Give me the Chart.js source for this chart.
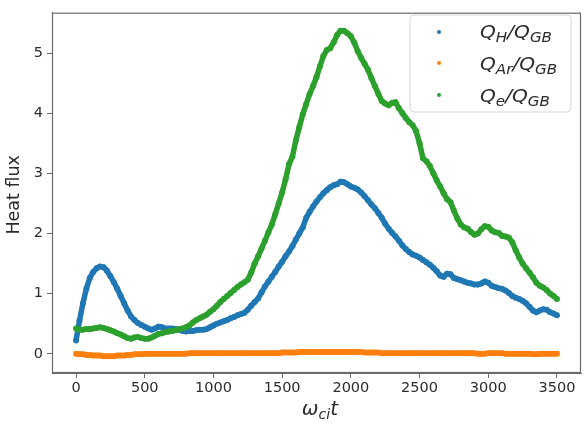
<!DOCTYPE html>
<html>
<head>
<meta charset="utf-8">
<script src="https://cdn.jsdelivr.net/npm/chart.js@4.4.1/dist/chart.umd.min.js"></script>
<style>
  html, body { margin: 0; padding: 0; background: #fff; }
  #wrap { width: 587px; height: 426px; }
</style>
</head>
<body>
<div id="wrap"><canvas id="chart" width="587" height="426"></canvas></div>
<script>
// sampling of omega_ci t (every 25 units, 0..3500)
const tStep = 25;

const qH = [
  0.22, 0.55, 0.84, 1.08, 1.26, 1.36, 1.42, 1.45, 1.44, 1.38,
  1.29, 1.19, 1.08, 0.96, 0.84, 0.72, 0.62, 0.56, 0.51, 0.48,
  0.45, 0.42, 0.40, 0.42, 0.45, 0.44, 0.42, 0.42, 0.42, 0.41,
  0.40, 0.38, 0.37, 0.38, 0.38, 0.39, 0.40, 0.40, 0.41, 0.44,
  0.47, 0.50, 0.52, 0.54, 0.56, 0.59, 0.61, 0.64, 0.66, 0.68,
  0.73, 0.80, 0.86, 0.92, 1.02, 1.12, 1.20, 1.28, 1.36, 1.45,
  1.53, 1.62, 1.70, 1.79, 1.90, 2.00, 2.10, 2.26, 2.36, 2.45,
  2.53, 2.60, 2.67, 2.72, 2.77, 2.80, 2.82, 2.86, 2.85, 2.82,
  2.78, 2.76, 2.73, 2.68, 2.62, 2.55, 2.48, 2.42, 2.34, 2.26,
  2.16, 2.08, 2.01, 1.95, 1.88, 1.80, 1.74, 1.69, 1.65, 1.63,
  1.60, 1.56, 1.52, 1.48, 1.43, 1.37, 1.30, 1.28, 1.33, 1.32,
  1.26, 1.24, 1.22, 1.20, 1.18, 1.17, 1.15, 1.15, 1.17, 1.20,
  1.18, 1.13, 1.11, 1.09, 1.08, 1.05, 1.01, 0.96, 0.93, 0.91,
  0.88, 0.84, 0.78, 0.72, 0.69, 0.72, 0.74, 0.73, 0.69, 0.67,
  0.64
];

const qAr = [
  0.00, -0.01, -0.01, -0.02, -0.02, -0.03, -0.03, -0.03, -0.04, -0.04,
  -0.04, -0.04, -0.03, -0.03, -0.03, -0.02, -0.02, -0.01, -0.01, -0.01,
  0.00, 0.00, 0.00, 0.00, 0.00, 0.00, 0.00, 0.00, 0.00, 0.00,
  0.00, 0.00, 0.00, 0.01, 0.01, 0.01, 0.01, 0.01, 0.01, 0.01,
  0.01, 0.01, 0.01, 0.01, 0.01, 0.01, 0.01, 0.01, 0.01, 0.01,
  0.01, 0.01, 0.01, 0.01, 0.01, 0.01, 0.01, 0.01, 0.01, 0.01,
  0.02, 0.02, 0.02, 0.02, 0.02, 0.03, 0.03, 0.03, 0.03, 0.03,
  0.03, 0.03, 0.03, 0.03, 0.03, 0.03, 0.03, 0.03, 0.03, 0.03,
  0.03, 0.03, 0.03, 0.03, 0.02, 0.02, 0.02, 0.02, 0.02, 0.01,
  0.01, 0.01, 0.01, 0.01, 0.01, 0.01, 0.01, 0.01, 0.01, 0.01,
  0.01, 0.01, 0.01, 0.01, 0.01, 0.01, 0.01, 0.01, 0.01, 0.01,
  0.01, 0.01, 0.01, 0.01, 0.01, 0.01, 0.01, 0.00, 0.00, 0.00,
  0.01, 0.01, 0.01, 0.01, 0.01, 0.00, 0.00, 0.00, 0.00, 0.00,
  0.00, 0.00, 0.00, -0.01, -0.01, 0.00, 0.00, 0.00, 0.00, 0.00,
  0.00
];

const qE = [
  0.42, 0.40, 0.40, 0.41, 0.41, 0.42, 0.43, 0.44, 0.43, 0.41,
  0.39, 0.37, 0.34, 0.32, 0.29, 0.26, 0.25, 0.27, 0.28, 0.26,
  0.25, 0.25, 0.27, 0.30, 0.33, 0.34, 0.36, 0.37, 0.38, 0.39,
  0.41, 0.42, 0.44, 0.47, 0.52, 0.56, 0.59, 0.62, 0.65, 0.70,
  0.74, 0.80, 0.86, 0.91, 0.96, 1.01, 1.06, 1.11, 1.15, 1.19,
  1.23, 1.35, 1.50, 1.62, 1.75, 1.88, 2.02, 2.15, 2.32, 2.50,
  2.68, 2.90, 3.15, 3.28, 3.55, 3.77, 3.98, 4.15, 4.32, 4.45,
  4.60, 4.78, 4.95, 5.05, 5.08, 5.18, 5.30, 5.37, 5.37, 5.33,
  5.28, 5.17, 5.03, 4.92, 4.82, 4.72, 4.58, 4.45, 4.32, 4.20,
  4.16, 4.13, 4.17, 4.18, 4.08, 4.00, 3.92, 3.85, 3.80, 3.70,
  3.50, 3.25, 3.20, 3.12, 3.00, 2.88, 2.78, 2.67, 2.57, 2.52,
  2.38, 2.25, 2.15, 2.10, 2.08, 2.02, 1.98, 2.00, 2.07, 2.12,
  2.11, 2.05, 2.02, 2.01, 1.96, 1.95, 1.93, 1.85, 1.72, 1.60,
  1.50, 1.42, 1.35, 1.27, 1.18, 1.13, 1.10, 1.06, 1.00, 0.96,
  0.91
];

const xTicks = [0, 500, 1000, 1500, 2000, 2500, 3000, 3500];
const yTicks = [0, 1, 2, 3, 4, 5];

const colors = { H: '#1f77b4', Ar: '#ff7f0e', e: '#2ca02c' };

function toPoints(vals) {
  return vals.map((v, i) => ({ x: i * tStep, y: v }));
}

const FONT = '"DejaVu Sans", "Liberation Sans", sans-serif';
const INK = '#2b2b2b';
const FRAME = '#6a6a6a';

// draws a run of [text, isSubscript] pieces, returns width
function drawMath(ctx, x, base, parts, size, subSize, sx, measureOnly) {
  let w = 0;
  ctx.save();
  ctx.translate(x, base);
  ctx.scale(sx, 1);
  ctx.textBaseline = 'alphabetic';
  ctx.textAlign = 'left';
  ctx.fillStyle = INK;
  parts.forEach(p => {
    const sub = p[1];
    ctx.font = 'italic ' + (sub ? subSize : size) + 'px ' + FONT;
    if (!measureOnly) ctx.fillText(p[0], w, sub ? size * 0.22 : 0);
    w += ctx.measureText(p[0]).width;
  });
  ctx.restore();
  return w * sx;
}

const legendRows = [
  { color: colors.H,  parts: [['Q', 0], ['H', 1], ['/', 0], ['Q', 0], ['GB', 1]] },
  { color: colors.Ar, parts: [['Q', 0], ['Ar', 1], ['/', 0], ['Q', 0], ['GB', 1]] },
  { color: colors.e,  parts: [['Q', 0], ['e', 1], ['/', 0], ['Q', 0], ['GB', 1]] }
];

const decor = {
  id: 'decor',
  afterDraw(chart) {
    const ctx = chart.ctx;
    const a = chart.chartArea;

    // full axes frame
    ctx.save();
    ctx.strokeStyle = FRAME;
    ctx.lineWidth = 1.2;
    ctx.strokeRect(a.left + 0.5, a.top + 0.5, a.right - a.left - 1, a.bottom - a.top - 1);
    ctx.restore();

    // y title
    ctx.save();
    ctx.translate(14, (a.top + a.bottom) / 2 + 2);
    ctx.rotate(-Math.PI / 2);
    ctx.font = '17.5px ' + FONT;
    ctx.fillStyle = INK;
    ctx.textAlign = 'center';
    ctx.textBaseline = 'middle';
    ctx.fillText('Heat flux', 0, 0);
    ctx.restore();

    // x title: omega_ci t
    const xParts = [['\u03c9', 0], ['ci', 1], ['t', 0]];
    const xw = drawMath(ctx, 0, 0, xParts, 19, 13.5, 1.05, true);
    drawMath(ctx, 320 - xw / 2, 415, xParts, 19, 13.5, 1.05, false);

    // legend box
    const bx = 410, by = 15, bw = 161, bh = 97, r = 4;
    ctx.save();
    ctx.beginPath();
    ctx.moveTo(bx + r, by);
    ctx.arcTo(bx + bw, by, bx + bw, by + bh, r);
    ctx.arcTo(bx + bw, by + bh, bx, by + bh, r);
    ctx.arcTo(bx, by + bh, bx, by, r);
    ctx.arcTo(bx, by, bx + bw, by, r);
    ctx.closePath();
    ctx.fillStyle = 'rgba(255,255,255,0.8)';
    ctx.fill();
    ctx.strokeStyle = '#d6d6d6';
    ctx.lineWidth = 1;
    ctx.stroke();
    ctx.restore();

    const rowsY = [38, 70, 102];
    const dotsY = [32, 63, 95];
    legendRows.forEach((row, i) => {
      ctx.save();
      ctx.beginPath();
      ctx.arc(439, dotsY[i], 2, 0, Math.PI * 2);
      ctx.fillStyle = row.color;
      ctx.fill();
      ctx.restore();
      drawMath(ctx, 480, rowsY[i], row.parts, 18, 13.5, 1.12, false);
    });
  }
};

function series(label, vals, color, order) {
  return {
    label: label,
    data: toPoints(vals),
    showLine: true,
    borderColor: color,
    borderWidth: 5.5,
    backgroundColor: color,
    pointRadius: 3,
    pointBorderWidth: 0,
    pointHoverRadius: 0,
    order: order
  };
}

new Chart(document.getElementById('chart').getContext('2d'), {
  type: 'scatter',
  data: {
    datasets: [
      series('Q_H/Q_GB', qH, colors.H, 2),
      series('Q_Ar/Q_GB', qAr, colors.Ar, 1),
      series('Q_e/Q_GB', qE, colors.e, 0)
    ]
  },
  options: {
    responsive: false,
    animation: false,
    devicePixelRatio: 1,
    layout: { padding: { left: 0, right: 6, top: 4, bottom: 0 } },
    plugins: { legend: { display: false }, tooltip: { enabled: false } },
    scales: {
      x: {
        type: 'linear',
        min: -175,
        max: 3675,
        afterFit(s) { s.height = 53; },
        afterBuildTicks(s) { s.ticks = xTicks.map(v => ({ value: v })); },
        grid: { display: true, drawOnChartArea: false, drawTicks: true, tickLength: 5, color: FRAME },
        border: { display: true, color: FRAME },
        ticks: {
          color: INK, padding: 2, maxRotation: 0,
          font: { family: FONT, size: 14.5 },
          callback: v => String(v)
        }
      },
      y: {
        type: 'linear',
        min: -0.32,
        max: 5.67,
        afterFit(s) { s.width = 52; },
        afterBuildTicks(s) { s.ticks = yTicks.map(v => ({ value: v })); },
        grid: { display: true, drawOnChartArea: false, drawTicks: true, tickLength: 5, color: FRAME },
        border: { display: true, color: FRAME },
        ticks: {
          color: INK, padding: 4,
          font: { family: FONT, size: 14.5 },
          callback: v => String(v)
        }
      }
    }
  },
  plugins: [decor]
});
</script>
</body>
</html>
